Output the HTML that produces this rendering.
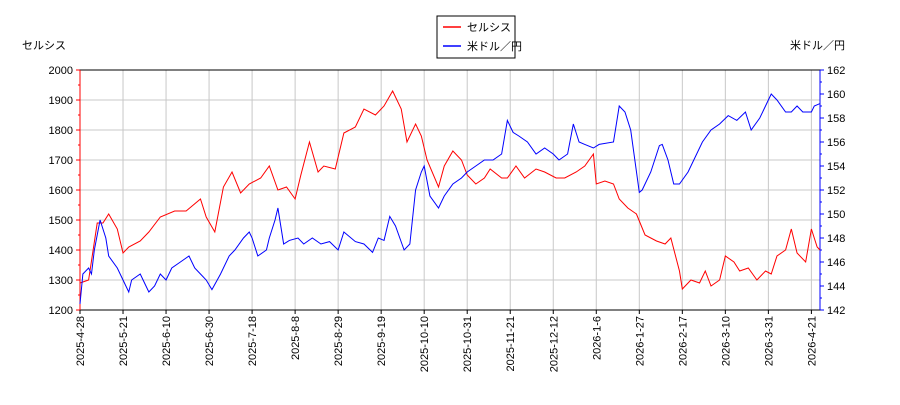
<!DOCTYPE html>
<html><head><meta charset="utf-8"><style>
body{margin:0;background:#fff}
svg text{font-family:"Liberation Sans","Noto Sans CJK JP",sans-serif;font-size:11px}
</style></head><body>
<svg id="c" width="900" height="400" xmlns="http://www.w3.org/2000/svg"></svg>
<script>
const xTickLabels=["2025-4-28","2025-5-21","2025-6-10","2025-6-30","2025-7-18","2025-8-8","2025-8-29","2025-9-19","2025-10-10","2025-10-31","2025-11-21","2025-12-12","2026-1-6","2026-1-27","2026-2-17","2026-3-10","2026-3-31","2026-4-21"];
const leftTicks=[1200,1300,1400,1500,1600,1700,1800,1900,2000];
const rightTicks=[142,144,146,148,150,152,154,156,158,160,162];
const redIdx=[0,3,6,8,10,13,15,17,21,24,28,33,37,42,44,47,50,53,56,59,63,66,69,72,75,77,80,83,85,89,92,96,99,103,106,109,112,114,117,119,121,125,127,130,133,135,138,141,143,147,149,152,155,159,162,166,169,173,176,179,180,183,186,188,191,194,197,201,204,206,209,210,213,216,218,220,223,225,228,230,233,236,239,241,243,246,248,250,253,255,257,258];
const redVal=[1290,1300,1490,1490,1520,1470,1390,1410,1430,1460,1510,1530,1530,1570,1510,1460,1610,1660,1590,1620,1640,1680,1600,1610,1570,1650,1760,1660,1680,1670,1790,1810,1870,1850,1880,1930,1870,1760,1820,1780,1700,1610,1680,1730,1700,1650,1620,1640,1670,1640,1640,1680,1640,1670,1660,1640,1640,1660,1680,1720,1620,1630,1620,1570,1540,1520,1450,1430,1420,1440,1330,1270,1300,1290,1330,1280,1300,1380,1360,1330,1340,1300,1330,1320,1380,1400,1470,1390,1360,1470,1410,1400];
const blueIdx=[0,1,3,4,5,7,9,10,13,15,17,18,21,23,24,26,28,30,32,35,38,40,42,44,46,49,52,54,57,59,60,62,65,66,68,69,71,73,76,78,81,84,87,90,92,96,99,102,104,106,108,110,113,115,117,119,120,122,125,127,130,133,135,138,141,144,147,149,151,153,156,159,162,165,167,170,172,174,176,179,181,186,188,190,192,195,196,199,202,203,205,207,209,212,215,217,220,223,226,229,232,234,237,239,241,243,246,248,250,252,255,256,258];
const blueVal=[142.5,145,145.5,145,147,149.5,148,146.5,145.5,144.5,143.5,144.5,145,144,143.5,144,145,144.5,145.5,146,146.5,145.5,145,144.5,143.7,145,146.5,147,148,148.5,148,146.5,147,148,149.5,150.5,147.5,147.8,148,147.5,148,147.5,147.7,147,148.5,147.7,147.5,146.8,148,147.8,149.8,149,147,147.5,152,153.5,154,151.5,150.5,151.5,152.5,153,153.5,154,154.5,154.5,155,157.8,156.8,156.5,156,155,155.5,155,154.5,155,157.5,156,155.8,155.5,155.8,156,159,158.5,157,151.8,152,153.5,155.7,155.8,154.5,152.5,152.5,153.5,155,156,157,157.5,158.2,157.8,158.5,157,158,159,160,159.5,158.5,158.5,159,158.5,158.5,159,159.2];
const svg=document.getElementById('c');const NS='http://www.w3.org/2000/svg';
const X0=80,X1=820,Y0=70,Y1=310,IMAX=258;
const xs=i=>X0+i*(X1-X0)/IMAX;
const yl=v=>Y1-(v-1200)/800*(Y1-Y0);
const yr=v=>Y1-(v-142)/20*(Y1-Y0);
function mk(t,a,p){const e=document.createElementNS(NS,t);for(const k in a)e.setAttribute(k,a[k]);(p||svg).appendChild(e);return e;}
// grid
xTickLabels.forEach((l,k)=>{const x=xs(k*15);
const g=mk('line',{x1:x,x2:x,y1:Y0,y2:Y1,stroke:'#c8c8c8'});


const tk=mk('line',{x1:x,x2:x,y1:Y1,y2:Y1+4,stroke:'#000'});


const t=mk('text',{x:0,y:0,transform:`translate(${x+4},${Y1+6}) rotate(-90)`,'text-anchor':'end'});t.textContent=l;

});
leftTicks.forEach(v=>{const y=yl(v);
const g=mk('line',{x1:X0,x2:X1,y1:y,y2:y,stroke:'#c8c8c8'});


mk('line',{x1:X0-4,x2:X0,y1:y,y2:y,stroke:'#f00'});
const t=mk('text',{x:X0-7,y:y+4,'text-anchor':'end'});t.textContent=v;

});
rightTicks.forEach(v=>{const y=yr(v);
mk('line',{x1:X1,x2:X1+4,y1:y,y2:y,stroke:'#00f'});
const t=mk('text',{x:X1+7,y:y+4});t.textContent=v;

});
for(let v=142;v<162;v+=1){if(v%2){mk('line',{x1:X1,x2:X1+2,y1:yr(v),y2:yr(v),stroke:'#00f'});}}
for(let v=1250;v<2000;v+=100){mk('line',{x1:X0-2,x2:X0,y1:yl(v),y2:yl(v),stroke:'#f00'});}
const fr=mk('rect',{x:X0,y:Y0,width:X1-X0,height:Y1-Y0,fill:'none',stroke:'#000'});


const la=mk('line',{x1:X0,x2:X0,y1:Y0,y2:Y1,stroke:'#f00'});


const ra=mk('line',{x1:X1,x2:X1,y1:Y0,y2:Y1,stroke:'#00f'});


const rp=mk('polyline',{points:redIdx.map((i,k)=>xs(i)+','+yl(redVal[k])).join(' '),fill:'none',stroke:'#f00','stroke-width':1});


const bp=mk('polyline',{points:blueIdx.map((i,k)=>xs(i)+','+yr(blueVal[k])).join(' '),fill:'none',stroke:'#00f','stroke-width':1});


const lt=mk('text',{x:22,y:49});lt.textContent='セルシス';


const rt=mk('text',{x:790,y:49});rt.textContent='米ドル／円';


const lg=mk('g',{});


mk('rect',{x:437,y:16,width:78,height:42,fill:'#fff',stroke:'#000'},lg);
mk('line',{x1:443,x2:461,y1:27,y2:27,stroke:'#f00','stroke-width':1.5},lg);
mk('line',{x1:443,x2:461,y1:46,y2:46,stroke:'#00f','stroke-width':1.5},lg);
const l1=mk('text',{x:467,y:31},lg);l1.textContent='セルシス';


const l2=mk('text',{x:467,y:50},lg);l2.textContent='米ドル／円';


</script>
</body></html>
